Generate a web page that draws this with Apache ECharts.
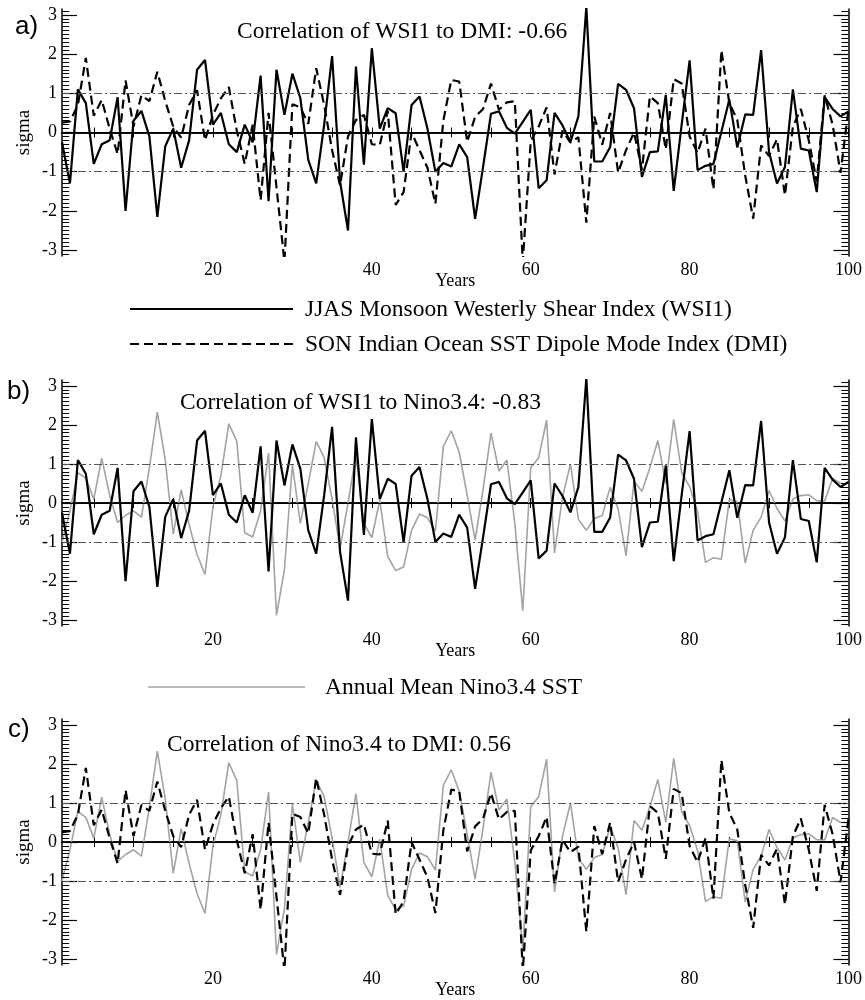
<!DOCTYPE html>
<html>
<head>
<meta charset="utf-8">
<script src="https://cdn.jsdelivr.net/npm/echarts@6/dist/echarts.min.js"></script>
<style>
html, body { margin: 0; padding: 0; background: #fff; }
#chart { width: 865px; height: 1000px; }
</style>
</head>
<body>
<div id="chart"></div>
<script>
// x: model years 1..100
var years = [];
for (var i = 1; i <= 100; i++) years.push(i);

// JJAS Monsoon Westerly Shear Index (WSI1), sigma
var wsi1 = [-0.25, -1.3, 1.1, 0.75, -0.8, -0.3, -0.2, 0.9, -2.0, 0.3,
    0.55, -0.1, -2.15, -0.35, 0.1, -0.9, -0.2, 1.6, 1.85, 0.2,
    0.5, -0.3, -0.5, 0.2, -0.25, 1.45, -1.75, 1.6, 0.45, 1.5,
    0.88, -0.7, -1.3, 0.2, 1.95, -1.25, -2.5, 1.68, -0.82, 2.15,
    0.1, 0.62, 0.49, -1.0, 0.7, 0.92, 0.1, -1.0, -0.78, -0.87,
    -0.3, -0.63, -2.2, -0.88, 0.48, 0.54, 0.12, -0.03, 0.27, 0.58,
    -1.42, -1.22, 0.5, 0.18, -0.24, 0.41, 3.2, -0.74, -0.74, -0.37,
    1.24, 1.09, 0.62, -1.13, -0.5, -0.48, 0.96, -1.49, 0.2, 1.84,
    -0.96, -0.85, -0.8, 0.02, 0.84, -0.38, 0.46, 0.45, 2.1, -0.5,
    -1.3, -0.88, 1.1, -0.41, -0.46, -1.52, 0.9, 0.6, 0.41, 0.54];

// SON Indian Ocean SST Dipole Mode Index (DMI), sigma
var dmi = [0.25, 0.28, 0.7, 1.9, 0.43, 0.83, 0.1, -0.55, 1.33, 0.15,
    0.95, 0.8, 1.55, 0.8, 0.15, -0.13, 0.7, 1.08, -0.2, 0.45,
    0.87, 1.16, 0.05, -0.8, 0.2, -1.73, 0.5, -1.4, -3.3, 0.72,
    0.64, 0.22, 1.64, 0.7, -0.45, -1.35, -0.1, 0.32, 0.45, -0.3,
    -0.32, 0.55, -1.85, -1.52, 0.0, -0.45, -0.9, -1.82, 0.3, 1.34,
    1.3, -0.24, 0.4, 0.6, 1.25, 0.58, 0.77, 0.8, -3.3, -0.22,
    0.15, 0.64, -1.07, 0.05, -0.26, -0.12, -2.3, 0.41, -0.31, 0.5,
    -1.02, -0.45, 0.0, -0.95, 0.92, 0.75, -0.43, 1.36, 1.25, -0.1,
    -0.52, 0.1, -1.45, 2.1, 0.75, 0.32, -1.1, -2.2, -0.33, -0.6,
    -0.17, -1.6, 0.15, 0.6, -0.2, -1.25, 0.95, 0.2, -1.03, 0.6];

// Annual Mean Nino3.4 SST, sigma
var nino = [-1.0, -0.2, 0.78, 0.63, 0.1, 1.15, 0.2, -0.5, -0.32, -0.2,
    -0.36, 0.9, 2.33, 1.1, -0.8, 0.34, -0.55, -1.32, -1.83, -0.1,
    0.7, 2.03, 1.58, -0.76, -0.87, -0.2, 1.28, -2.88, -1.7, 0.98,
    -0.52, 0.5, 1.58, 1.16, 0.1, -1.16, 0.0, 1.24, -0.52, -0.89,
    0.07, -1.37, -1.73, -1.64, -0.7, -0.28, -0.38, -0.72, 1.45, 1.85,
    1.3, 0.2, -0.95, 0.35, 1.79, 0.82, 1.1, -0.52, -2.76, 0.9,
    1.16, 2.12, -1.28, 0.15, 1.0, -0.42, -0.7, -0.4, -0.32, 0.4,
    -0.15, -1.35, 0.55, 0.3, 0.9, 1.6, 0.5, 2.14, 0.78, 0.42,
    -0.22, -1.52, -1.4, -1.44, 0.08, 0.03, -1.54, -0.7, -0.36, 0.32,
    -0.14, -0.46, 0.1, 0.19, 0.21, 0.06, 0.05, 0.63, 0.5, 0.5];

var xTicks = [20, 40, 60, 80, 100];
var yTicks = [-3, -2, -1, 0, 1, 2, 3];
var refLevels = [-1, 0, 1];

var titles = [
    'Correlation of WSI1 to DMI: -0.66',
    'Correlation of WSI1 to Nino3.4: -0.83',
    'Correlation of Nino3.4 to DMI: 0.56'
];
var panelNames = ['a)', 'b)', 'c)'];

function pairs(arr) {
    var out = [];
    for (var i = 0; i < arr.length; i++) out.push([years[i], arr[i]]);
    return out;
}

var serif = '"Liberation Serif", "Times New Roman", serif';
var YMIN = -3.15, YMAX = 3.15;

var xMinor = [];
for (var t = 5; t <= 100; t += 5) xMinor.push(t);
// minor comb every 0.1 sigma (not on whole numbers)
var yMinor = [];
for (var k = -31; k <= 31; k++) if (k % 10 !== 0) yMinor.push(k / 10);

var grids = [
    { left: 62, right: 15, top: 9, height: 247 },
    { left: 62, right: 15, top: 380, height: 246 },
    { left: 62, right: 15, top: 719, height: 248 }
];

var xAxes = [], yAxes = [];
var black = { color: '#000', width: 1.5 };
// per grid: xAxis bottom/top, yAxis left/right
grids.forEach(function (g, gi) {
    xAxes.push({
        gridIndex: gi, type: 'value', min: 1, max: 100, position: 'bottom',
        axisLine: { lineStyle: black },
        axisTick: { inside: true, length: 5, customValues: xMinor, lineStyle: { color: '#000' } },
        axisLabel: { customValues: xTicks, margin: 5, fontFamily: serif, fontSize: 18, color: '#000' },
        splitLine: { show: false },
        name: 'Years', nameLocation: 'middle', nameGap: 16, nameMoveOverlap: false,
        nameTextStyle: { fontFamily: serif, fontSize: 18, color: '#000' }
    });
    xAxes.push({
        gridIndex: gi, type: 'value', min: 1, max: 100, position: 'top',
        axisLine: { lineStyle: black },
        axisTick: { inside: true, length: 5, customValues: xMinor, lineStyle: { color: '#000' } },
        axisLabel: { show: false },
        splitLine: { show: false }
    });
    ['left', 'right'].forEach(function (side) {
        yAxes.push({
            gridIndex: gi, type: 'value', min: YMIN, max: YMAX, position: side,
            axisLine: { show: true, lineStyle: black },
            axisTick: { inside: true, length: 15, customValues: yTicks, lineStyle: { color: '#000', width: 1.2 } },
            axisLabel: side === 'left'
                ? { customValues: yTicks, margin: 5, fontFamily: serif, fontSize: 18, color: '#000' }
                : { show: false },
            splitLine: { show: false },
            name: side === 'left' ? 'sigma' : '',
            nameLocation: 'middle', nameGap: 28, nameMoveOverlap: false,
            nameTextStyle: { fontFamily: serif, fontSize: 19, color: '#000' }
        });
    });
});

// the dense comb is drawn as short markLine segments (about 7px = 0.9 years)
var combLen = 0.9;
function refLines() {
    var data = refLevels.map(function (v) {
        return {
            yAxis: v,
            lineStyle: v === 0
                ? { color: '#000', width: 1.2, type: 'solid' }
                : { color: '#555', width: 1, type: [8, 3, 2, 3] }
        };
    });
    var st = { color: '#000', width: 1, type: 'solid' };
    yMinor.forEach(function (v) {
        data.push([{ coord: [1, v], lineStyle: st }, { coord: [1 + combLen, v] }]);
        data.push([{ coord: [100 - combLen, v], lineStyle: st }, { coord: [100, v] }]);
    });
    return {
        silent: true, symbol: 'none', animation: false,
        label: { show: false },
        data: data
    };
}

function solid(gi, data, withRef) {
    return {
        type: 'line', xAxisIndex: gi * 2, yAxisIndex: gi * 2, data: pairs(data),
        showSymbol: false, symbol: 'none', clip: true, z: 4,
        lineStyle: { color: '#000', width: 2.2 },
        emphasis: { disabled: true },
        markLine: withRef ? refLines() : undefined
    };
}
function dashed(gi, data, withRef) {
    return {
        type: 'line', xAxisIndex: gi * 2, yAxisIndex: gi * 2, data: pairs(data),
        showSymbol: false, symbol: 'none', clip: true, z: 3,
        lineStyle: { color: '#000', width: 2.2, type: [9, 5] },
        emphasis: { disabled: true },
        markLine: withRef ? refLines() : undefined
    };
}
function grey(gi, data) {
    return {
        type: 'line', xAxisIndex: gi * 2, yAxisIndex: gi * 2, data: pairs(data),
        showSymbol: false, symbol: 'none', clip: true, z: 2,
        lineStyle: { color: '#a3a3a3', width: 1.6 },
        emphasis: { disabled: true }
    };
}

var graphics = [];
var titlePos = [[237, 32], [180, 403], [167, 745]];
var labelPos = [[15, 27], [7, 392], [8, 730]];
titles.forEach(function (txt, i) {
    graphics.push({
        type: 'text', x: titlePos[i][0], y: titlePos[i][1], z: 10,
        style: { text: txt, font: '23.5px ' + serif, fill: '#000', textVerticalAlign: 'middle', verticalAlign: 'middle' }
    });
    graphics.push({
        type: 'text', x: labelPos[i][0], y: labelPos[i][1], z: 10,
        style: { text: panelNames[i], font: '26px "Liberation Sans", Arial, sans-serif', fill: '#000', textVerticalAlign: 'middle', verticalAlign: 'middle' }
    });
});

// legend under panel a and b
var legendItems = [
    { y: 309, x1: 130, x2: 293, tx: 305, text: 'JJAS Monsoon Westerly Shear Index (WSI1)', style: { stroke: '#000', lineWidth: 2 } },
    { y: 344, x1: 130, x2: 293, tx: 305, text: 'SON Indian Ocean SST Dipole Mode Index (DMI)', style: { stroke: '#000', lineWidth: 2, lineDash: [9, 5] } },
    { y: 687, x1: 148, x2: 305, tx: 325, text: 'Annual Mean Nino3.4 SST', style: { stroke: '#a3a3a3', lineWidth: 1.6 } }
];
legendItems.forEach(function (it) {
    graphics.push({ type: 'line', shape: { x1: it.x1, y1: it.y, x2: it.x2, y2: it.y }, style: it.style });
    graphics.push({
        type: 'text', x: it.tx, y: it.y + 1,
        style: { text: it.text, font: '23.5px ' + serif, fill: '#000', textVerticalAlign: 'middle', verticalAlign: 'middle' }
    });
});

var chart = echarts.init(document.getElementById('chart'));
chart.setOption({
    animation: false,
    backgroundColor: '#fff',
    grid: grids,
    xAxis: xAxes,
    yAxis: yAxes,
    graphic: graphics,
    series: [
        dashed(0, dmi, false),
        solid(0, wsi1, true),
        grey(1, nino),
        solid(1, wsi1, true),
        grey(2, nino),
        dashed(2, dmi, true)
    ]
});
</script>
</body>
</html>
